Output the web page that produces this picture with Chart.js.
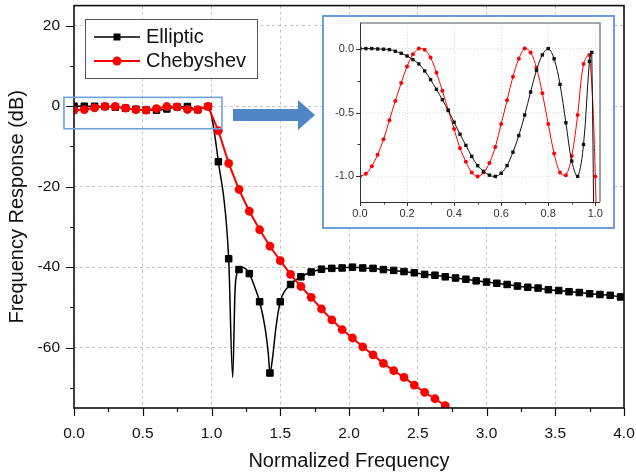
<!DOCTYPE html>
<html><head><meta charset="utf-8">
<script src="https://cdn.jsdelivr.net/npm/chart.js@4.4.1/dist/chart.umd.min.js"></script>
<style>
html,body{margin:0;padding:0;background:#fff;}
#wrap{position:relative;width:636px;height:475px;overflow:hidden;}
#main{position:absolute;left:0;top:0;}
#insetBox{position:absolute;left:322px;top:15px;width:289px;height:210px;border:2px solid #6a9ede;background:#fff;}
#inset{position:absolute;left:0;top:0;}
</style></head><body>
<div id="wrap">
<canvas id="main" width="636" height="475"></canvas>
<div id="insetBox"><canvas id="inset" width="289" height="210"></canvas></div>
</div>
<script>
const FONT = "'Liberation Sans', Arial, Helvetica, sans-serif";

// ---------- main plot data ----------
const ellipticFreq = [0,0.075,0.15,0.225,0.3,0.375,0.45,0.525,0.6,0.675,0.75,0.825,0.9,0.975,
  1.05,1.125,1.2,1.275,1.35,1.425,1.5,1.575,1.65,1.725,1.8,1.875,1.95,2.025,2.1,2.175,2.25,2.325,
  2.4,2.475,2.55,2.625,2.7,2.775,2.85,2.925,3.0,3.075,3.15,3.225,3.3,3.375,3.45,3.525,3.6,3.675,
  3.75,3.825,3.9,3.975];
const ellipticDb = [0,-0.003,-0.021,-0.086,-0.243,-0.484,-0.757,-0.96,-0.975,-0.68,-0.17,-0.08,-0.88,-0.1,
  -13.8,-37.9,-40.6,-41.6,-48.6,-66.3,-48.6,-44.3,-42.4,-41.2,-40.5,-40.3,-40.2,-40.0,-40.2,-40.3,-40.6,-40.8,
  -41.1,-41.4,-41.8,-42.0,-42.4,-42.7,-43.0,-43.4,-43.7,-44.0,-44.3,-44.7,-45.0,-45.2,-45.6,-45.8,-46.1,-46.3,
  -46.6,-46.8,-47.0,-47.4];
// extra (unmarked) points of the elliptic curve, around the stop-band notches
const ellipticCurveFreq = [1.154,1.171,1.183,1.224,1.316,1.389,1.413,1.445,1.469];
const ellipticCurveDb = [-67.4,-45.9,-41.8,-40.0,-45.1,-54.9,-61.4,-62.3,-54.9];

const chebyshevFreq = [0,0.075,0.15,0.225,0.3,0.375,0.45,0.525,0.6,0.675,0.75,0.825,0.9,0.975,
  1.05,1.125,1.2,1.275,1.35,1.425,1.5,1.575,1.65,1.725,1.8,1.875,1.95,2.025,2.1,2.175,2.25,2.325,
  2.4,2.475,2.55,2.625,2.7,2.775];
const chebyshevDb = [-1.0,-0.83,-0.41,-0.045,-0.07,-0.48,-0.885,-0.97,-0.59,-0.08,-0.15,-0.82,-0.84,-0.05,
  -6.1,-14.2,-20.7,-26.1,-30.7,-34.8,-38.4,-41.8,-44.8,-47.5,-50.4,-53.1,-55.5,-57.6,-59.8,-61.8,-63.9,-65.7,
  -67.4,-69.3,-71.1,-72.7,-74.4,-76.0];

const xMajorTicks = [0,0.5,1,1.5,2,2.5,3,3.5,4];
const xTickLabels = ['0.0','0.5','1.0','1.5','2.0','2.5','3.0','3.5','4.0'];
const xMinorTicks = [0.25,0.75,1.25,1.75,2.25,2.75,3.25,3.75];
const yMajorTicks = [-60,-40,-20,0,20];
const yTickLabels = ['-60','-40','-20','0','20'];
const yMinorTicks = [-70,-50,-30,-10,10];

// ---------- inset (pass-band zoom) data ----------
const insetFreq = [0,0.025,0.05,0.075,0.1,0.125,0.15,0.175,0.2,0.225,0.25,0.275,0.3,0.325,0.35,0.375,0.4,
  0.425,0.45,0.475,0.5,0.525,0.55,0.575,0.6,0.625,0.65,0.675,0.7,0.725,0.75,0.775,0.8,0.825,0.85,0.875,
  0.9,0.925,0.95,0.975,1.0];
const insetChebyshev = [-1.0,-0.98,-0.92,-0.83,-0.71,-0.56,-0.41,-0.27,-0.14,-0.045,0,-0.01,-0.07,-0.19,-0.33,
  -0.48,-0.63,-0.78,-0.885,-0.97,-1.0,-0.97,-0.895,-0.77,-0.59,-0.405,-0.22,-0.08,0,-0.03,-0.15,-0.35,-0.59,
  -0.82,-0.97,-0.99,-0.84,-0.52,-0.12,-0.05,-1.0];
const insetElliptic = [0,0,0,-0.003,-0.005,-0.008,-0.021,-0.037,-0.058,-0.086,-0.12,-0.175,-0.243,-0.319,-0.4,
  -0.484,-0.576,-0.67,-0.757,-0.843,-0.916,-0.96,-0.99,-1.0,-0.975,-0.915,-0.81,-0.68,-0.52,-0.34,-0.17,-0.05,
  0,-0.08,-0.28,-0.58,-0.88,-1.0,-0.75,-0.1];
const insetEllipticTailFreq = [0.985,1.0];
const insetEllipticTailDb = [-0.03,-3.0];
const insetChebyshevTailFreq = [1.025];
const insetChebyshevTailDb = [-3.2];

const insetXMajorTicks = [0,0.2,0.4,0.6,0.8,1.0];
const insetXTickLabels = ['0.0','0.2','0.4','0.6','0.8','1.0'];
const insetXMinorTicks = [0.1,0.3,0.5,0.7,0.9];
const insetYMajorTicks = [-1,-0.5,0];
const insetYTickLabels = ['-1.0','-0.5','0.0'];
const insetYMinorTicks = [-0.75,-0.25];

// ---------- helpers ----------
function pts(xs, ys, marked){ return xs.map((x,i)=>({x:x, y:ys[i], m:marked})); }
function idxOf(v, arr){ for(let i=0;i<arr.length;i++){ if(Math.abs(arr[i]-v)<1e-9) return i; } return -1; }
function labelFor(v, majors, labels){ const i=idxOf(v, majors); return i>=0 ? labels[i] : ''; }
function allTicks(a,b){ return a.concat(b).sort((p,q)=>p-q).map(v=>({value:v})); }
function fixSize(prop, size){ return s=>{ s[prop]=size; s.paddingTop=0; s.paddingBottom=0; s.paddingLeft=0; s.paddingRight=0; }; }

function tickPlugin(id, o){
  return { id: id, afterDraw(chart){
    const ctx=chart.ctx, a=chart.chartArea, xs=chart.scales.x, ys=chart.scales.y;
    ctx.save();
    if (o.frame) o.frame(ctx,a);
    ctx.strokeStyle=o.tickColor; ctx.lineWidth=o.tickWidth; ctx.setLineDash([]);
    ctx.beginPath();
    xs.ticks.forEach(t=>{ const p=Math.round(xs.getPixelForValue(t.value))+0.5;
      const L = idxOf(t.value,o.xMajor)>=0 ? o.major : o.minor;
      ctx.moveTo(p,a.bottom); ctx.lineTo(p,a.bottom+L); });
    ys.ticks.forEach(t=>{ const p=Math.round(ys.getPixelForValue(t.value))+0.5;
      const L = idxOf(t.value,o.yMajor)>=0 ? o.major : o.minor;
      ctx.moveTo(a.left,p); ctx.lineTo(a.left-L,p); });
    ctx.stroke();
    ctx.restore();
  }};
}

const ellipticPoints = pts(ellipticFreq, ellipticDb, true)
  .concat(pts(ellipticCurveFreq, ellipticCurveDb, false)).sort((p,q)=>p.x-q.x);
const chebyshevPoints = pts(chebyshevFreq, chebyshevDb, true);

const GRID='#c4c4c4';

const decorPlugin = { id:'decor', afterDraw(chart){
  const ctx=chart.ctx, xs=chart.scales.x, ys=chart.scales.y;
  ctx.save();
  // blue rectangle around the pass-band
  const x0=xs.getPixelForValue(-0.073), x1=xs.getPixelForValue(1.076);
  const y0=ys.getPixelForValue(2.2), y1=ys.getPixelForValue(-5.6);
  ctx.strokeStyle='#6fa3dc'; ctx.lineWidth=1.6;
  ctx.strokeRect(x0,y0,x1-x0,y1-y0);
  // arrow
  const ax0=xs.getPixelForValue(1.156), axh=xs.getPixelForValue(1.629), axt=xs.getPixelForValue(1.753);
  const ayc=ys.getPixelForValue(-2.2);
  ctx.fillStyle='#4f86c6';
  ctx.beginPath();
  ctx.moveTo(ax0,ayc-6); ctx.lineTo(axh,ayc-6); ctx.lineTo(axh,ayc-15); ctx.lineTo(axt,ayc);
  ctx.lineTo(axh,ayc+15); ctx.lineTo(axh,ayc+6); ctx.lineTo(ax0,ayc+6); ctx.closePath(); ctx.fill();
  // legend
  ctx.fillStyle='#fff'; ctx.fillRect(85.5,19.5,172,59);
  ctx.strokeStyle='#555'; ctx.lineWidth=1; ctx.strokeRect(85.5,19.5,172,59);
  const rows=[{label:'Elliptic',color:'#000',y:37,shape:'rect'},{label:'Chebyshev',color:'#ff0000',y:61,shape:'circle'}];
  rows.forEach(r=>{
    ctx.strokeStyle=r.color; ctx.lineWidth=r.shape==='rect'?1.5:2;
    ctx.beginPath(); ctx.moveTo(94,r.y); ctx.lineTo(140,r.y); ctx.stroke();
    ctx.fillStyle=r.color;
    if(r.shape==='rect'){ ctx.fillRect(113.5,r.y-3.5,7,7); }
    else { ctx.beginPath(); ctx.arc(117,r.y,4.5,0,Math.PI*2); ctx.fill(); }
    ctx.fillStyle='#111'; ctx.font='20px '+FONT; ctx.textBaseline='middle'; ctx.textAlign='left';
    ctx.fillText(r.label,146,r.y+0.5);
  });
  ctx.restore();
}};

Chart.defaults.font.family = FONT;

new Chart(document.getElementById('main'), {
  type:'line',
  data:{ datasets:[
    { label:'Elliptic', data:ellipticPoints, order:1, borderColor:'#000', backgroundColor:'#000',
      borderWidth:1.5, cubicInterpolationMode:'monotone', pointStyle:'rect',
      pointRadius:c=>(c.raw&&c.raw.m)?4.6:0, pointBorderWidth:1, pointBorderColor:'#000', pointBackgroundColor:'#000' },
    { label:'Chebyshev', data:chebyshevPoints, order:0, borderColor:'#ff0000', backgroundColor:'#ff0000',
      borderWidth:2, tension:0, pointStyle:'circle', pointRadius:4.4, pointBorderWidth:0,
      pointBackgroundColor:'#ff0000' }
  ]},
  options:{
    responsive:false, animation:false, devicePixelRatio:1,
    layout:{padding:{top:1,right:12,left:0,bottom:0}},
    plugins:{legend:{display:false}, tooltip:{enabled:false}},
    scales:{
      x:{ type:'linear', min:0, max:4,
        afterBuildTicks:s=>{ s.ticks=allTicks(xMajorTicks,xMinorTicks); },
        afterFit:fixSize('height',67),
        ticks:{ autoSkip:false, maxRotation:0, padding:16, color:'#111', font:{size:15.5},
          callback:v=>labelFor(v,xMajorTicks,xTickLabels) },
        grid:{ drawTicks:false, lineWidth:1,
          color:c=>(c.tick && idxOf(c.tick.value,xMajorTicks)>=0)?GRID:'rgba(0,0,0,0)' },
        border:{ display:false, dash:[3,3] },
        title:{ display:true, text:'Normalized Frequency', color:'#111', font:{size:20}, padding:{top:0,bottom:2} }
      },
      y:{ type:'linear', min:-75, max:25,
        afterBuildTicks:s=>{ s.ticks=allTicks(yMajorTicks,yMinorTicks); },
        afterFit:fixSize('width',74),
        ticks:{ autoSkip:false, padding:14, color:'#111', font:{size:15.5},
          callback:v=>labelFor(v,yMajorTicks,yTickLabels) },
        grid:{ drawTicks:false, lineWidth:1,
          color:c=>(c.tick && idxOf(c.tick.value,yMajorTicks)>=0)?GRID:'rgba(0,0,0,0)' },
        border:{ display:false, dash:[3,3] },
        title:{ display:true, text:'Frequency Response (dB)', color:'#111', font:{size:20}, padding:{top:5,bottom:0} }
      }
    }
  },
  plugins:[ tickPlugin('mainTicks',{ tickColor:'#111', tickWidth:1.2, major:8, minor:4,
      xMajor:xMajorTicks, yMajor:yMajorTicks,
      frame:(ctx,a)=>{ ctx.strokeStyle='#111'; ctx.lineWidth=1.6; ctx.strokeRect(a.left,a.top,a.right-a.left,a.bottom-a.top); } }),
    decorPlugin ]
});

// ---------- inset chart ----------
const insetEllipticPoints = pts(insetFreq.slice(0,insetElliptic.length), insetElliptic, true)
  .concat(pts(insetEllipticTailFreq, insetEllipticTailDb, true));
const insetChebyshevPoints = pts(insetFreq, insetChebyshev, true)
  .concat(pts(insetChebyshevTailFreq, insetChebyshevTailDb, true));
const IGRID='#d8d8d8';

new Chart(document.getElementById('inset'), {
  type:'line',
  data:{ datasets:[
    { label:'Elliptic', data:insetEllipticPoints, borderColor:'#111', borderWidth:1, tension:0.35,
      pointStyle:'rect', pointRadius:2.4, pointBorderWidth:0, pointBackgroundColor:'#111' },
    { label:'Chebyshev', data:insetChebyshevPoints, borderColor:'#ff0000', borderWidth:1, tension:0.35,
      pointStyle:'circle', pointRadius:2, pointBorderWidth:0, pointBackgroundColor:'#ff0000' }
  ]},
  options:{
    responsive:false, animation:false, devicePixelRatio:1,
    layout:{padding:{top:6,right:13,left:0,bottom:0}},
    plugins:{legend:{display:false}, tooltip:{enabled:false}},
    scales:{
      x:{ type:'linear', min:0, max:1.02,
        afterBuildTicks:s=>{ s.ticks=allTicks(insetXMajorTicks,insetXMinorTicks); },
        afterFit:fixSize('height',25),
        ticks:{ autoSkip:false, maxRotation:0, padding:5, color:'#333', font:{size:11},
          callback:v=>labelFor(v,insetXMajorTicks,insetXTickLabels) },
        grid:{ drawTicks:false, lineWidth:1,
          color:c=>(c.tick && idxOf(c.tick.value,insetXMajorTicks)>=0)?IGRID:'rgba(0,0,0,0)' },
        border:{ display:false, dash:[1,2] }
      },
      y:{ type:'linear', min:-1.2, max:0.2,
        afterBuildTicks:s=>{ s.ticks=allTicks(insetYMajorTicks,insetYMinorTicks); },
        afterFit:fixSize('width',36),
        ticks:{ autoSkip:false, padding:6, color:'#333', font:{size:11},
          callback:v=>labelFor(v,insetYMajorTicks,insetYTickLabels) },
        grid:{ drawTicks:false, lineWidth:1,
          color:c=>(c.tick && idxOf(c.tick.value,insetYMajorTicks)>=0)?IGRID:'rgba(0,0,0,0)' },
        border:{ display:false, dash:[1,2] }
      }
    }
  },
  plugins:[ tickPlugin('insetTicks',{ tickColor:'#333', tickWidth:1, major:4, minor:2.5,
      xMajor:insetXMajorTicks, yMajor:insetYMajorTicks,
      frame:(ctx,a)=>{
        ctx.strokeStyle='#8a8a8a'; ctx.lineWidth=1.6;
        ctx.beginPath(); ctx.moveTo(a.left,a.top); ctx.lineTo(a.right,a.top); ctx.lineTo(a.right,a.bottom); ctx.stroke();
        ctx.strokeStyle='#333'; ctx.lineWidth=1;
        ctx.beginPath(); ctx.moveTo(a.left+0.5,a.top); ctx.lineTo(a.left+0.5,a.bottom+0.5); ctx.lineTo(a.right,a.bottom+0.5); ctx.stroke();
      } }) ]
});
</script>
</body></html>
